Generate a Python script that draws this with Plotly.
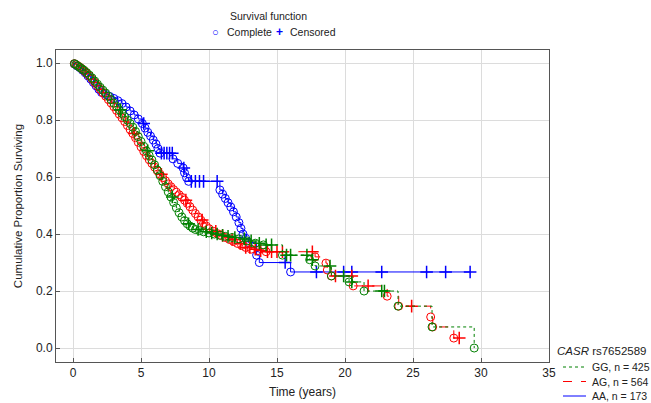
import numpy as np
import plotly.graph_objects as go

# ---------------- data ----------------
# GG group (dotted green)
gg_event_t = [0.1, 0.2, 0.35, 0.5, 0.65, 0.8, 1.0, 1.2, 1.4, 1.6, 1.8, 2.0, 2.2, 2.4, 2.6, 2.8,
              3.0, 3.2, 3.4, 3.6, 3.8, 4.0, 4.2, 4.4, 4.6, 4.8, 5.0, 5.2, 5.4, 5.6, 5.8, 6.0,
              6.2, 6.4, 6.6, 6.8, 7.0, 7.2, 7.4, 7.6, 7.8, 8.0, 8.2, 8.4, 8.6, 8.8, 9.0, 9.3,
              9.6, 10.0, 10.4, 10.8, 11.2, 11.7, 12.2, 12.8, 13.4, 14.0, 15.4, 17.4, 17.8,
              19.0, 20.3, 21.4, 23.9, 26.4, 29.5]
gg_event_s = [0.998, 0.995, 0.990, 0.985, 0.980, 0.975, 0.967, 0.958, 0.948, 0.937, 0.926, 0.915,
              0.905, 0.895, 0.884, 0.872, 0.860, 0.848, 0.836, 0.824, 0.812, 0.800, 0.788, 0.775,
              0.760, 0.742, 0.725, 0.708, 0.692, 0.676, 0.660, 0.643, 0.625, 0.605, 0.585, 0.566,
              0.548, 0.530, 0.511, 0.492, 0.475, 0.460, 0.447, 0.436, 0.428, 0.421, 0.416, 0.412,
              0.408, 0.404, 0.400, 0.396, 0.392, 0.388, 0.383, 0.376, 0.368, 0.362, 0.326, 0.310,
              0.288, 0.253, 0.232, 0.200, 0.147, 0.074, 0.0]
gg_censor_t = [3.5, 5.5, 7.3, 8.5, 9.2, 9.8, 10.2, 10.6, 11.0, 11.4, 11.9, 12.6, 13.1, 13.7,
               14.2, 14.6, 15.7, 16.0, 17.2, 17.6, 18.9, 19.9, 20.5, 22.7, 22.9]

# AG group (dashed red)
ag_event_t = [0.1, 0.25, 0.4, 0.55, 0.7, 0.85, 1.0, 1.2, 1.4, 1.6, 1.8, 2.0, 2.2, 2.4, 2.6, 2.8,
              3.0, 3.2, 3.4, 3.6, 3.8, 4.0, 4.2, 4.4, 4.6, 4.8, 5.0, 5.2, 5.4, 5.6, 5.8, 6.0,
              6.2, 6.4, 6.6, 6.8, 7.0, 7.2, 7.4, 7.6, 7.8, 8.0, 8.2, 8.4, 8.6, 8.8, 9.0, 9.2,
              9.4, 9.6, 9.8, 10.0, 10.3, 10.6, 10.9, 11.2, 11.5, 11.8, 12.1, 12.4, 12.7, 13.1,
              13.6, 14.2, 17.8, 18.6, 18.7, 19.0, 20.6, 23.1, 23.95, 26.3, 26.45, 28.0]
ag_event_s = [0.998, 0.994, 0.989, 0.984, 0.978, 0.972, 0.965, 0.955, 0.944, 0.932, 0.920, 0.908,
              0.896, 0.884, 0.872, 0.860, 0.847, 0.834, 0.821, 0.808, 0.795, 0.781, 0.767, 0.753,
              0.738, 0.722, 0.706, 0.690, 0.675, 0.661, 0.648, 0.635, 0.622, 0.610, 0.598, 0.587,
              0.576, 0.566, 0.556, 0.547, 0.538, 0.529, 0.519, 0.508, 0.496, 0.484, 0.472, 0.460,
              0.449, 0.438, 0.428, 0.419, 0.410, 0.402, 0.395, 0.388, 0.381, 0.374, 0.367, 0.360,
              0.353, 0.347, 0.342, 0.338, 0.320, 0.298, 0.274, 0.253, 0.218, 0.182, 0.147, 0.109,
              0.074, 0.035]
ag_censor_t = [4.5, 6.5, 8.3, 9.5, 10.5, 11.0, 11.7, 12.3, 12.7, 13.0, 13.4, 13.8, 14.3, 14.6,
               15.0, 15.4, 17.6, 19.3, 20.5, 21.7, 24.9, 28.4]

# AA group (solid blue)
aa_event_t = [0.1, 0.3, 0.5, 0.7, 0.9, 1.1, 1.3, 1.5, 1.7, 1.9, 2.1, 2.4, 2.7, 3.0, 3.3, 3.6,
              3.9, 4.2, 4.5, 4.8, 5.1, 5.3, 5.5, 5.7, 5.9, 6.1, 6.25, 6.4, 7.35, 7.7, 8.1, 8.2,
              8.35, 8.5, 10.8, 11.0, 11.2, 11.4, 11.6, 11.8, 12.0, 12.2, 12.35, 12.5, 12.7,
              12.9, 13.5, 13.7, 16.0]
aa_event_s = [0.997, 0.990, 0.984, 0.975, 0.966, 0.955, 0.944, 0.932, 0.920, 0.908, 0.897, 0.890,
              0.883, 0.876, 0.868, 0.858, 0.846, 0.832, 0.818, 0.804, 0.788, 0.772, 0.757, 0.744,
              0.730, 0.716, 0.700, 0.684, 0.664, 0.648, 0.632, 0.615, 0.598, 0.585, 0.555, 0.540,
              0.525, 0.510, 0.495, 0.478, 0.460, 0.440, 0.420, 0.400, 0.385, 0.370, 0.326, 0.300,
              0.267]
aa_censor_t = [5.2, 6.5, 6.7, 6.9, 7.1, 7.3, 8.15, 8.7, 9.0, 9.3, 9.6, 10.6, 15.6, 17.9, 19.9,
               20.5, 22.7, 26.0, 27.4, 29.2]

groups = [
    ("AA, n = 173", aa_event_t, aa_event_s, aa_censor_t, "#0000ff", "solid"),
    ("AG, n = 564", ag_event_t, ag_event_s, ag_censor_t, "#ff0000", "dash"),
    ("GG, n = 425", gg_event_t, gg_event_s, gg_censor_t, "#008000", "dot"),
]
legend_order = ["GG, n = 425", "AG, n = 564", "AA, n = 173"]
x_ticks = [0, 5, 10, 15, 20, 25, 30, 35]
y_ticks = [0, 0.2, 0.4, 0.6, 0.8, 1.0]


def level_at(ev_t, ev_s, t):
    idx = np.searchsorted(np.asarray(ev_t), t, side="right") - 1
    return 1.0 if idx < 0 else ev_s[idx]


fig = go.Figure()
for name, ev_t, ev_s, cen_t, color, dash in groups:
    cen_s = [level_at(ev_t, ev_s, c) for c in cen_t]
    all_t = sorted(set(ev_t) | set(cen_t))
    line_x = [0.0] + all_t
    line_y = [1.0] + [level_at(ev_t, ev_s, t) for t in all_t]
    fig.add_trace(go.Scatter(x=line_x, y=line_y, mode="lines", line_shape="hv",
                             line=dict(color=color, width=1, dash=dash),
                             name=name, showlegend=False))
    fig.add_trace(go.Scatter(x=ev_t, y=ev_s, mode="markers",
                             marker=dict(symbol="circle-open", size=8, color=color,
                                         line=dict(width=1, color=color)),
                             showlegend=False, hoverinfo="skip"))
    fig.add_trace(go.Scatter(x=cen_t, y=cen_s, mode="markers",
                             marker=dict(symbol="cross-thin-open", size=9, color=color,
                                         line=dict(width=1.5, color=color)),
                             showlegend=False, hoverinfo="skip"))

# ---------- layout helpers (pixel -> paper) ----------
L, R, T, B, W, H = 56, 102, 50, 41, 651, 403
PW, PH = W - L - R, H - T - B


def px(x):
    return (x - L) / PW


def py(y):
    return (H - B - y) / PH


font_family = "Arial, Liberation Sans, sans-serif"
txt = "#222"


def ann(text, x, y, anchor="left", size=11, color=txt):
    return dict(text=text, x=px(x), y=py(y), xref="paper", yref="paper", showarrow=False,
                xanchor=anchor, yanchor="middle", font=dict(size=size, color=color))


annotations = [
    ann("Survival function", 268, 16, "center", 10.5),
    ann("○", 215, 32, "center", 11, "#0000ff"),
    ann("Complete", 225, 32, "left", 10.5),
    ann("<b>+</b>", 279, 32, "center", 12, "#0000ff"),
    ann("Censored", 288, 32, "left", 10.5),
    ann("<i>CASR</i> rs7652589", 555, 351, "left", 11.5),
]
shapes = []
style = {g[0]: (g[4], g[5]) for g in groups}
for i, name in enumerate(legend_order):
    yy = 367 + i * 14.5
    color, dash = style[name]
    shapes.append(dict(type="line", xref="paper", yref="paper", x0=px(563), x1=px(586),
                       y0=py(yy), y1=py(yy), line=dict(color=color, width=1, dash=dash)))
    annotations.append(ann(name, 590, yy, "left", 10.5))

fig.update_layout(
    width=W, height=H,
    margin=dict(l=L, r=R, t=T, b=B, autoexpand=False),
    paper_bgcolor="white", plot_bgcolor="white",
    font=dict(family=font_family, size=12, color=txt),
    showlegend=False,
    annotations=annotations,
    shapes=shapes,
    xaxis=dict(range=[-1.25, 35], tickvals=x_ticks,
               showgrid=True, gridcolor="#dcdcdc", gridwidth=1, zeroline=False,
               showline=True, linecolor="#555", linewidth=1, mirror=True,
               ticks="inside", ticklen=4, tickcolor="#555", tickfont=dict(size=12),
               title=dict(text="Time (years)", standoff=8, font=dict(size=12))),
    yaxis=dict(range=[-0.049, 1.046], tickvals=y_ticks, tickformat=".1f",
               showgrid=True, gridcolor="#dcdcdc", gridwidth=1, zeroline=False,
               showline=True, linecolor="#555", linewidth=1, mirror=True,
               ticks="inside", ticklen=4, tickcolor="#555", tickfont=dict(size=12),
               title=dict(text="Cumulative Proportion Surviving", standoff=10,
                          font=dict(size=11.5))),
)

fig.write_html("out.html")
